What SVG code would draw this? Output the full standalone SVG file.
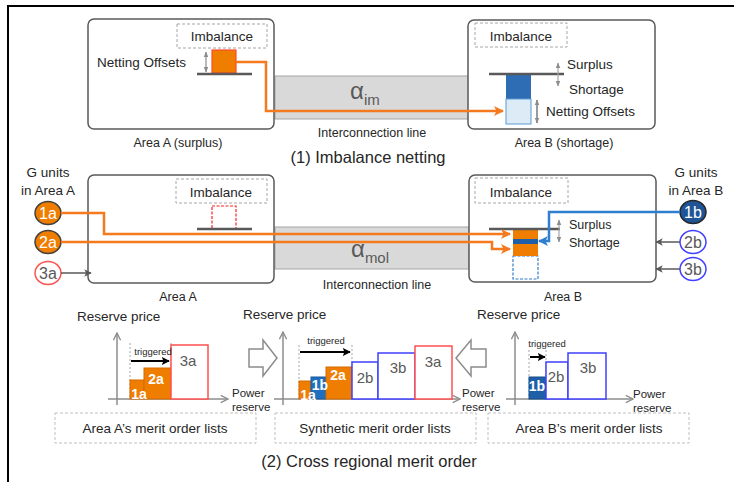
<svg xmlns="http://www.w3.org/2000/svg" width="734" height="482" viewBox="0 0 734 482">
<defs>
<style>
text{font-family:"Liberation Sans",Arial,sans-serif;fill:#262626}
.area{fill:#fff;stroke:#595959;stroke-width:1.5}
.imb{fill:#fff;stroke:#a6a6a6;stroke-width:1;stroke-dasharray:3,2}
.line{fill:#d9d9d9;stroke:#a6a6a6;stroke-width:1}
.base{stroke:#595959;stroke-width:2.5}
.or{fill:none;stroke:#f4791f;stroke-width:2.5}
.bl{fill:none;stroke:#2f7fd0;stroke-width:2.5}
.gr{fill:none;stroke:#595959;stroke-width:1.5}
.dbl{fill:none;stroke:#8c8c8c;stroke-width:1.2}
.axis{fill:none;stroke:#8c8c8c;stroke-width:1.5}
.vd{stroke:#a6a6a6;stroke-width:1;stroke-dasharray:2,2}
.oran{fill:#ef7d00;stroke:#d66a00;stroke-width:1}
.redb{fill:#fff;stroke:#ff5050;stroke-width:1.5}
.blub{fill:#fff;stroke:#4040ff;stroke-width:1.5}
.lbox{fill:#fff;stroke:#bfbfbf;stroke-width:1;stroke-dasharray:3,2}
.t13{font-size:13.5px}
.t12{font-size:12.5px}
.cw{font-size:16px;fill:#fff}
.cg{font-size:16px;fill:#595959}
.bw{font-size:14px;font-weight:bold;fill:#fff}
.bg{font-size:15px;fill:#595959}
.trig{font-size:9.5px}
.blk{fill:#fff;stroke:#8c8c8c;stroke-width:1.5}
</style>
<marker id="ao" viewBox="0 0 10 10" refX="9" refY="5" markerWidth="4" markerHeight="4" orient="auto" markerUnits="strokeWidth"><path d="M0,0 L10,5 L0,10 L2.5,5 z" fill="#f4791f"/></marker>
<marker id="ab" viewBox="0 0 10 10" refX="9" refY="5" markerWidth="4" markerHeight="4" orient="auto" markerUnits="strokeWidth"><path d="M0,0 L10,5 L0,10 L2.5,5 z" fill="#2f7fd0"/></marker>
<marker id="ag" viewBox="0 0 10 10" refX="9" refY="5" markerWidth="5" markerHeight="5" orient="auto" markerUnits="strokeWidth"><path d="M0,0 L10,5 L0,10 L2.5,5 z" fill="#595959"/></marker>
<marker id="ak" viewBox="0 0 10 10" refX="9" refY="5" markerWidth="4" markerHeight="4" orient="auto" markerUnits="strokeWidth"><path d="M0,0 L10,5 L0,10 L2,5 z" fill="#000"/></marker>
<marker id="ax" viewBox="0 0 10 10" refX="9" refY="5" markerWidth="6" markerHeight="6" orient="auto" markerUnits="strokeWidth"><path d="M1,1 L9,5 L1,9" fill="none" stroke="#8c8c8c" stroke-width="1.5"/></marker>
<marker id="ad" viewBox="0 0 10 10" refX="9" refY="5" markerWidth="5" markerHeight="5" orient="auto-start-reverse" markerUnits="strokeWidth"><path d="M0,1 L10,5 L0,9 z" fill="#8c8c8c"/></marker>
</defs>

<!-- outer frame -->
<path d="M8,483 L8,6 L735,6" fill="none" stroke="#000" stroke-width="2"/>

<!-- ===== (1) Imbalance netting ===== -->
<g id="line-im">
<rect class="line" x="275" y="76" width="194" height="43"/>
<text x="350" y="99" style="font-size:24px;fill:#595959">α<tspan dy="6" style="font-size:15px">im</tspan></text>
<text class="t12" x="372" y="137" text-anchor="middle">Interconnection line</text>
</g>
<g id="areaA-top">
<rect class="area" x="88" y="19" width="186" height="110" rx="6"/>
<rect class="imb" x="177" y="24" width="90" height="24"/>
<text class="t13" x="222" y="41" text-anchor="middle">Imbalance</text>
<rect x="212" y="50" width="24" height="23" fill="#ef7d00" stroke="#ff4a2a" stroke-width="1.2"/>
<line class="base" x1="197" y1="74" x2="252" y2="74"/>
<line class="dbl" x1="206" y1="52" x2="206" y2="72" marker-start="url(#ad)" marker-end="url(#ad)"/>
<text class="t13" x="97" y="67">Netting Offsets</text>
<text class="t12" x="178" y="147" text-anchor="middle">Area A (surplus)</text>
</g>
<g id="areaB-top">
<rect class="area" x="468" y="20" width="187" height="109" rx="6"/>
<rect class="imb" x="475" y="23" width="92" height="24"/>
<text class="t13" x="521" y="41" text-anchor="middle">Imbalance</text>
<rect x="506" y="74" width="25" height="25" fill="#2e6db4"/>
<rect x="506" y="99" width="25" height="25" fill="#ddebf7" stroke="#5b9bd5" stroke-width="1"/>
<line class="base" x1="489" y1="74" x2="564" y2="74"/>
<line class="dbl" x1="558" y1="63" x2="558" y2="86" marker-start="url(#ad)" marker-end="url(#ad)" style="stroke:#a6a6a6"/>
<line x1="537" y1="100" x2="537" y2="123" class="dbl" marker-start="url(#ad)" marker-end="url(#ad)" style="stroke:#595959"/>
<text class="t13" x="567" y="69">Surplus</text>
<text class="t13" x="569" y="94">Shortage</text>
<text class="t13" x="546" y="116">Netting Offsets</text>
<text class="t12" x="564" y="147" text-anchor="middle">Area B (shortage)</text>
</g>
<g id="connectors-top">
<path class="or" d="M236,62 L266,62 L266,111 L503,111" marker-end="url(#ao)"/>
</g>
<text x="368" y="163" text-anchor="middle" style="font-size:16.5px">(1) Imbalance netting</text>

<!-- ===== (2) middle ===== -->
<g id="line-mol">
<rect class="line" x="275" y="227" width="194" height="42"/>
<text x="351" y="257" style="font-size:24px;fill:#595959">α<tspan dy="6" style="font-size:15px">mol</tspan></text>
<text class="t12" x="377" y="289" text-anchor="middle">Interconnection line</text>
</g>
<g id="areaA-mid">
<rect class="area" x="88" y="175" width="186" height="108" rx="6"/>
<rect class="imb" x="176" y="179" width="91" height="24"/>
<text class="t13" x="221" y="197" text-anchor="middle">Imbalance</text>
<rect x="212" y="206" width="24" height="23" fill="none" stroke="#ff2020" stroke-width="1.2" stroke-dasharray="3,1.5"/>
<line class="base" x1="197" y1="229" x2="252" y2="229"/>
<text class="t12" x="178" y="301" text-anchor="middle">Area A</text>
</g>
<g id="areaB-mid">
<rect class="area" x="469" y="175" width="187" height="107" rx="6"/>
<rect class="imb" x="475" y="178" width="93" height="25"/>
<text class="t13" x="521" y="197" text-anchor="middle">Imbalance</text>
<rect x="513" y="256" width="25" height="23" fill="none" stroke="#2f7fd0" stroke-width="1.2" stroke-dasharray="3,1.5"/>
<rect x="513" y="229" width="25" height="27" fill="#ef7d00"/>
<rect x="513" y="239" width="25" height="5" fill="#1f5fa8"/>
<line class="base" x1="489" y1="229" x2="560" y2="229"/>
<line class="dbl" x1="559" y1="220" x2="559" y2="242" marker-start="url(#ad)" marker-end="url(#ad)" style="stroke:#a6a6a6"/>
<text class="t12" x="569" y="229">Surplus</text>
<text class="t12" x="569" y="247">Shortage</text>
<text class="t12" x="563" y="301" text-anchor="middle">Area B</text>
</g>
<g id="units-A">
<text class="t13" x="48" y="177" text-anchor="middle">G units</text>
<text class="t13" x="48" y="195" text-anchor="middle">in Area A</text>
<g id="u1a"><ellipse cx="48" cy="213" rx="13" ry="11.5" fill="#ef7d00" stroke="#404040" stroke-width="1.5"/><text class="cw" x="48" y="219" text-anchor="middle">1a</text></g>
<g id="u2a"><ellipse cx="48" cy="242" rx="13" ry="11.5" fill="#ef7d00" stroke="#404040" stroke-width="1.5"/><text class="cw" x="48" y="248" text-anchor="middle">2a</text></g>
<g id="u3a"><ellipse cx="48" cy="273" rx="13" ry="11.5" fill="#fff" stroke="#ff5050" stroke-width="1.5"/><text class="cg" x="48" y="279" text-anchor="middle">3a</text></g>
</g>
<g id="units-B">
<text class="t13" x="696" y="177" text-anchor="middle">G units</text>
<text class="t13" x="696" y="195" text-anchor="middle">in Area B</text>
<g id="u1b"><ellipse cx="693" cy="212" rx="13" ry="11.5" fill="#1f5597" stroke="#262626" stroke-width="1.5"/><text class="cw" x="693" y="218" text-anchor="middle">1b</text></g>
<g id="u2b"><ellipse cx="693" cy="242" rx="13" ry="11.5" fill="#fff" stroke="#4040ff" stroke-width="1.5"/><text class="cg" x="693" y="248" text-anchor="middle">2b</text></g>
<g id="u3b"><ellipse cx="693" cy="269" rx="13" ry="11.5" fill="#fff" stroke="#4040ff" stroke-width="1.5"/><text class="cg" x="693" y="275" text-anchor="middle">3b</text></g>
</g>
<g id="connectors-mid">
<path class="or" d="M61,213 L104,213 L104,234 L510,234" marker-end="url(#ao)"/>
<path class="or" d="M61,242 L492,242 L492,249 L510,249" marker-end="url(#ao)"/>
<path class="bl" d="M680,212 L549,212 L549,241 L539,241" marker-end="url(#ab)"/>
<path class="gr" d="M61,273 L91,273" marker-end="url(#ag)"/>
<path class="gr" d="M680,242 L656,242" marker-end="url(#ag)"/>
<path class="gr" d="M680,269 L656,269" marker-end="url(#ag)"/>
</g>

<!-- ===== bottom charts ===== -->
<g id="chartA">
<text class="t13" x="77" y="321">Reserve price</text>
<line class="axis" x1="117" y1="405" x2="117" y2="333" marker-end="url(#ax)"/>
<line class="axis" x1="108" y1="399" x2="228" y2="399" marker-end="url(#ax)"/>
<line class="vd" x1="130" y1="343" x2="130" y2="399"/>
<line class="vd" x1="171" y1="343" x2="171" y2="399"/>
<rect class="oran" x="130" y="380" width="14" height="19"/>
<rect class="oran" x="144" y="368" width="27" height="31"/>
<rect class="redb" x="171" y="345" width="37" height="54"/>
<text class="bw" x="139" y="399" text-anchor="middle">1a</text>
<text class="bw" x="156" y="384" text-anchor="middle">2a</text>
<text class="bg" x="188" y="366" text-anchor="middle">3a</text>
<text class="trig" x="153" y="355" text-anchor="middle">triggered</text>
<line x1="131" y1="361" x2="169" y2="361" stroke="#000" stroke-width="2" marker-end="url(#ak)"/>
<text class="t12" x="232" y="397" style="font-size:11.5px">Power</text>
<text class="t12" x="232" y="411" style="font-size:11.5px">reserve</text>
</g>
<g id="chartS">
<text class="t13" x="243" y="319">Reserve price</text>
<line class="axis" x1="283" y1="405" x2="283" y2="332" marker-end="url(#ax)"/>
<line class="axis" x1="274" y1="399" x2="460" y2="399" marker-end="url(#ax)"/>
<line class="vd" x1="299" y1="345" x2="299" y2="399"/>
<line class="vd" x1="352" y1="345" x2="352" y2="399"/>
<rect class="oran" x="299" y="381" width="12" height="18"/>
<rect x="311" y="377" width="15" height="22" fill="#1f6fc0" stroke="#1a5a9c" stroke-width="1"/>
<rect class="oran" x="326" y="367" width="26" height="32"/>
<rect class="blub" x="352" y="362" width="26" height="37"/>
<rect class="blub" x="378" y="353" width="37" height="46"/>
<rect class="redb" x="415" y="346" width="37" height="53"/>
<text class="bw" x="308" y="400" text-anchor="middle">1a</text>
<text class="bw" x="320" y="390" text-anchor="middle">1b</text>
<text class="bw" x="338" y="380" text-anchor="middle">2a</text>
<text class="bg" x="365" y="383" text-anchor="middle">2b</text>
<text class="bg" x="398" y="373" text-anchor="middle">3b</text>
<text class="bg" x="433" y="367" text-anchor="middle">3a</text>
<text class="trig" x="326" y="344" text-anchor="middle">triggered</text>
<line x1="300" y1="352" x2="350" y2="352" stroke="#000" stroke-width="2" marker-end="url(#ak)"/>
<text class="t12" x="462" y="397" style="font-size:11.5px">Power</text>
<text class="t12" x="462" y="411" style="font-size:11.5px">reserve</text>
</g>
<g id="chartB">
<text class="t13" x="477" y="319">Reserve price</text>
<line class="axis" x1="515" y1="405" x2="515" y2="332" marker-end="url(#ax)"/>
<line class="axis" x1="506" y1="399" x2="633" y2="399" marker-end="url(#ax)"/>
<line class="vd" x1="529" y1="350" x2="529" y2="399"/>
<line class="vd" x1="546" y1="350" x2="546" y2="399"/>
<rect x="529" y="377" width="17" height="22" fill="#1f5fa8" stroke="#1a4f8c" stroke-width="1"/>
<rect class="blub" x="546" y="362" width="22" height="37"/>
<rect class="blub" x="568" y="353" width="38" height="46"/>
<text class="bw" x="537" y="391" text-anchor="middle">1b</text>
<text class="bg" x="556" y="382" text-anchor="middle">2b</text>
<text class="bg" x="588" y="373" text-anchor="middle">3b</text>
<text class="trig" x="547" y="347" text-anchor="middle">triggered</text>
<line x1="530" y1="357" x2="545" y2="357" stroke="#000" stroke-width="2" marker-end="url(#ak)"/>
<text class="t12" x="633" y="398" style="font-size:11.5px">Power</text>
<text class="t12" x="633" y="412" style="font-size:11.5px">reserve</text>
</g>
<g id="block-arrows">
<path class="blk" d="M249,349 L263,349 L263,340 L277,358 L263,376 L263,367 L249,367 Z"/>
<path class="blk" d="M486,349 L471,349 L471,340 L456,358 L471,376 L471,367 L486,367 Z"/>
</g>
<g id="lists">
<rect class="lbox" x="55" y="413" width="201" height="30"/>
<text class="t13" x="155" y="433" text-anchor="middle">Area A’s merit order lists</text>
<rect class="lbox" x="275" y="413" width="201" height="30"/>
<text class="t13" x="375" y="433" text-anchor="middle">Synthetic merit order lists</text>
<rect class="lbox" x="488" y="413" width="201" height="30"/>
<text class="t13" x="589" y="433" text-anchor="middle">Area B’s merit order lists</text>
</g>
<text x="369" y="467" text-anchor="middle" style="font-size:16.5px">(2) Cross regional merit order</text>
</svg>
